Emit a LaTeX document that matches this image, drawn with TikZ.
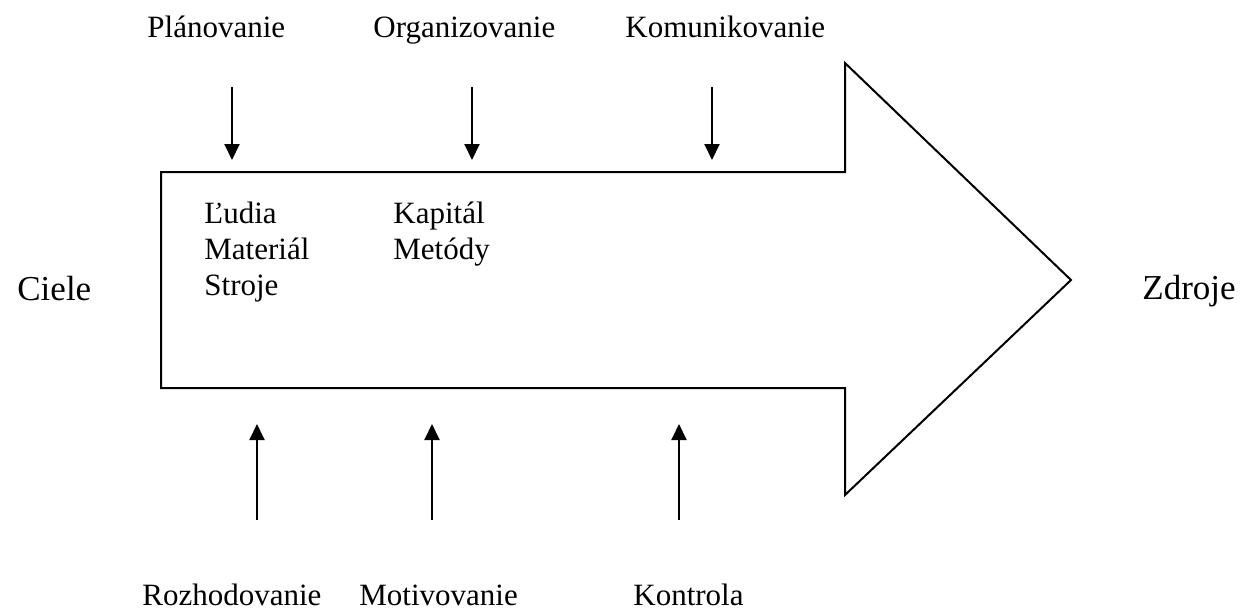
\documentclass[tikz,border=0pt]{standalone}
\usepackage{fontspec}
\setmainfont{Liberation Serif}
\usetikzlibrary{arrows.meta}
\begin{document}
\begin{tikzpicture}[x=0.5pt,y=-0.5pt,
  lbl/.style={inner sep=0pt,anchor=base west,font=\fontsize{15.5pt}{18pt}\selectfont},
  biglbl/.style={inner sep=0pt,anchor=base west,font=\fontsize{17.5pt}{21pt}\selectfont},
  inner/.style={inner sep=0pt,anchor=base west,align=left,font=\fontsize{15.5pt}{18pt}\selectfont},
  flow/.style={line width=1pt,-{Triangle[width=7.5pt,length=8pt]}},
  bigarrow/.style={line width=1pt,line join=miter}]
\useasboundingbox (0,0) rectangle (1255,612);
% big arrow
\draw[bigarrow] (161,172) -- (845,172) -- (845,63) -- (1071,280) -- (845,495) -- (845,388) -- (161,388) -- cycle;
% side labels
\node[biglbl] (ciele) at (17,300) {Ciele};
\node[biglbl] (zdroje) at (1142,299) {Zdroje};
% top labels
\node[lbl] (plan) at (147,37) {Plánovanie};
\node[lbl] (org) at (373,37) {Organizovanie};
\node[lbl] (kom) at (625,37) {Komunikovanie};
% bottom labels
\node[lbl] (roz) at (142,605) {Rozhodovanie};
\node[lbl] (mot) at (359,605) {Motivovanie};
\node[lbl] (kon) at (633,605) {Kontrola};
% inner texts
\node[inner] (lud) at (204,223) {Ľudia};
\node[inner] (mat) at (204,259) {Materiál};
\node[inner] (str) at (204,295) {Stroje};
\node[inner] (kap) at (393,223) {Kapitál};
\node[inner] (met) at (393,259) {Metódy};
% arrow coordinates
\coordinate (t1s) at (232,87);  \coordinate (t1e) at (232,160);
\coordinate (t2s) at (472,87);  \coordinate (t2e) at (472,160);
\coordinate (t3s) at (712,87);  \coordinate (t3e) at (712,160);
\coordinate (b1s) at (257,520); \coordinate (b1e) at (257,424);
\coordinate (b2s) at (432,520); \coordinate (b2e) at (432,424);
\coordinate (b3s) at (679,520); \coordinate (b3e) at (679,424);
\draw[flow] (t1s) -- (t1e);
\draw[flow] (t2s) -- (t2e);
\draw[flow] (t3s) -- (t3e);
\draw[flow] (b1s) -- (b1e);
\draw[flow] (b2s) -- (b2e);
\draw[flow] (b3s) -- (b3e);
\end{tikzpicture}
\end{document}
